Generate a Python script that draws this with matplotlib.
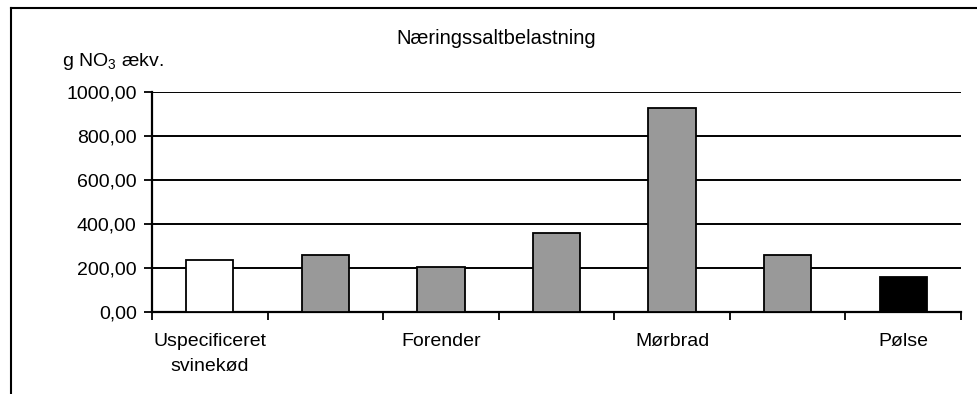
import matplotlib
matplotlib.use("Agg")
import matplotlib.pyplot as plt
from matplotlib.lines import Line2D
import numpy as np

plt.rcParams['font.family'] = ['Liberation Sans', 'DejaVu Sans']
plt.rcParams['mathtext.fontset'] = 'custom'
plt.rcParams['mathtext.rm'] = 'Liberation Sans'
plt.rcParams['mathtext.it'] = 'Liberation Sans'

# Nutrient loading per product (g NO3 equivalents)
categories = ["Uspecificeret\nsvinekød", "", "Forender", "", "Mørbrad", "", "Pølse"]
values = [237, 259, 206, 358, 929, 261, 160]
bar_colors = ["#ffffff", "#999999", "#999999", "#999999", "#999999", "#999999", "#000000"]
yticks = [0, 200, 400, 600, 800, 1000]
ytick_labels = ["0,00", "200,00", "400,00", "600,00", "800,00", "1000,00"]

fs = 14
fig = plt.figure(figsize=(9.77, 3.94), dpi=100)
ax = fig.add_axes([152 / 977, 1 - 312 / 394, (961 - 152) / 977, (312 - 92) / 394])

x = np.arange(len(values))
ax.bar(x, values, width=0.41, color=bar_colors, edgecolor="black", linewidth=1.3, zorder=3)

ax.set_xlim(-0.5, len(values) - 0.5)
ax.set_ylim(0, 1000)

# horizontal gridlines
for v in yticks[1:]:
    ax.axhline(v, color="black", linewidth=1.4, zorder=1)

ax.set_yticks(yticks)
ax.set_yticklabels(ytick_labels, fontsize=fs)
ax.tick_params(axis="y", direction="out", length=6, width=1.3, pad=5)

# category boundaries as major ticks, labels as minor ticks
ax.set_xticks(np.arange(-0.5, len(values), 1.0))
ax.set_xticklabels([])
ax.set_xticks(x, minor=True)
ax.set_xticklabels(categories, minor=True, fontsize=fs, linespacing=1.6)
ax.tick_params(axis="x", which="major", direction="out", length=6, width=1.3)
ax.tick_params(axis="x", which="minor", length=0, pad=15)

for side in ["top", "right"]:
    ax.spines[side].set_visible(False)
for side in ["left", "bottom"]:
    ax.spines[side].set_linewidth(1.6)

fig.text(496 / 977, 1 - 38 / 394, "Næringssaltbelastning", ha="center", va="center", fontsize=14.5)
fig.text(62 / 977, 1 - 61 / 394, "g NO$_3$ ækv.", ha="left", va="center", fontsize=fs)

# outer frame (top and left edges)
fig.add_artist(Line2D([11 / 977, 11 / 977], [0, 1 - 8 / 394], color="black", linewidth=1.5,
                      transform=fig.transFigure))
fig.add_artist(Line2D([11 / 977, 1], [1 - 8 / 394, 1 - 8 / 394], color="black", linewidth=1.5,
                      transform=fig.transFigure))

fig.savefig("out.png", dpi=100)
